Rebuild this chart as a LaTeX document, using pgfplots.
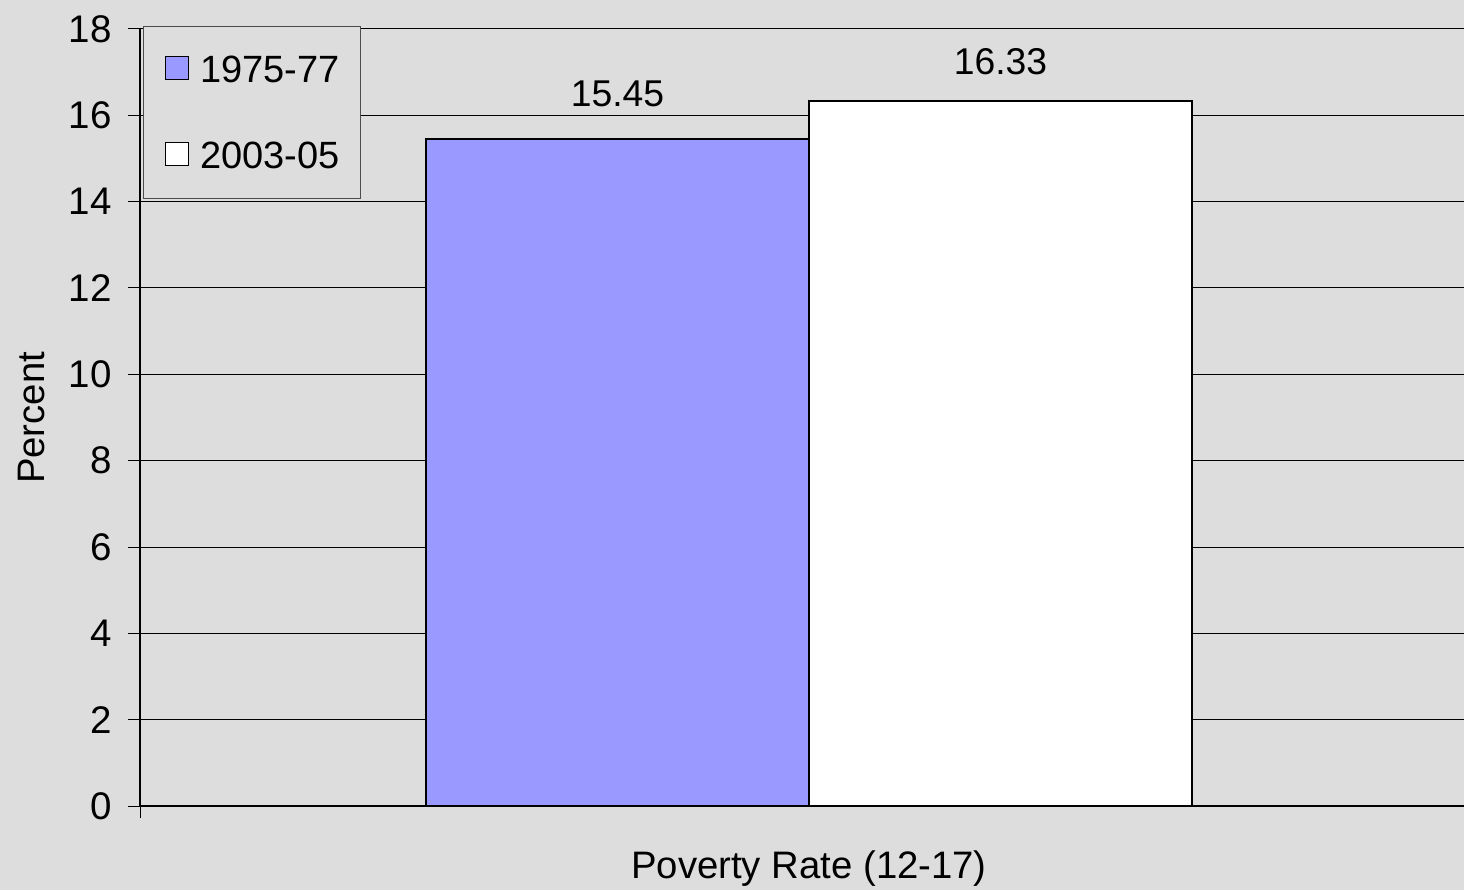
\documentclass[border=0pt]{standalone}
\usepackage{pgfplots}
\pgfplotsset{compat=1.18}
\usepackage{fontspec}
\setmainfont{Liberation Sans}
\usetikzlibrary{backgrounds,calc}
\definecolor{bg}{HTML}{DDDDDD}
\definecolor{barblue}{HTML}{9999FF}
\begin{document}
\begin{tikzpicture}
\begin{axis}[
  name=ax,
  scale only axis, width=1324bp, height=777bp,
  xmin=140, xmax=1464, ymin=0, ymax=18,
  ytick={0,2,...,18},
  xtick={140}, xticklabels={},
  axis x line*=bottom, axis y line*=left,
  axis line style={-, black, line width=1.2bp},
  tick align=outside,
  major tick length=12bp,
  tick style={black, line width=1bp},
  ymajorgrids,
  grid style={black, line width=1bp},
  /pgf/number format/assume math mode=true,
  tick label style={font=\fontsize{38.5bp}{45bp}\selectfont},
  yticklabel style={inner sep=0pt, xshift=-16bp},
  label style={font=\fontsize{38.3bp}{45bp}\selectfont},
  xlabel={Poverty Rate (12-17)},
  xlabel style={at={(axis description cs:0.5053,-0.0927)}, anchor=base, inner sep=0pt},
  ylabel={Percent},
  ylabel style={at={(axis description cs:-0.0725,0.4994)}, anchor=base, inner sep=0pt, rotate=0},
  ybar, bar width=383, bar shift=0pt,
  legend style={at={(axis description cs:0.00227,1.00386)}, anchor=north west,
    fill=bg, draw=black!70, line width=1bp,
    inner xsep=21bp, inner ysep=29bp, row sep=58bp, column sep=11bp,
    font=\fontsize{38bp}{45bp}\selectfont,
    nodes={inner sep=0pt}},
  legend cell align=left,
  legend image code/.code={\draw[#1, line width=1.5bp] (0bp,-10bp) rectangle (23bp,13bp);},
]
\addplot[fill=barblue, draw=black, line width=2.5bp,
  nodes near coords, point meta=explicit symbolic,
  every node near coord/.append style={anchor=base, inner sep=0pt, yshift=33bp, black,
    font=\fontsize{37.3bp}{45bp}\selectfont}]
  coordinates {(617.5,15.45) [15.45]};
\addlegendentry{1975-77}
\addplot[fill=white, draw=black, line width=2.5bp,
  nodes near coords, point meta=explicit symbolic,
  every node near coord/.append style={anchor=base, inner sep=0pt, yshift=27bp, black,
    font=\fontsize{37.3bp}{45bp}\selectfont}]
  coordinates {(1000.5,16.33) [16.33]};
\addlegendentry{2003-05}
\end{axis}
\begin{scope}[on background layer]
\fill[bg] ($(ax.south west)+(-140bp,-84bp)$) rectangle ($(ax.north east)+(0bp,29bp)$);
\end{scope}
\pgfresetboundingbox
\path[use as bounding box] ($(ax.south west)+(-140bp,-84bp)$) rectangle ($(ax.north east)+(0bp,29bp)$);
\end{tikzpicture}
\end{document}
